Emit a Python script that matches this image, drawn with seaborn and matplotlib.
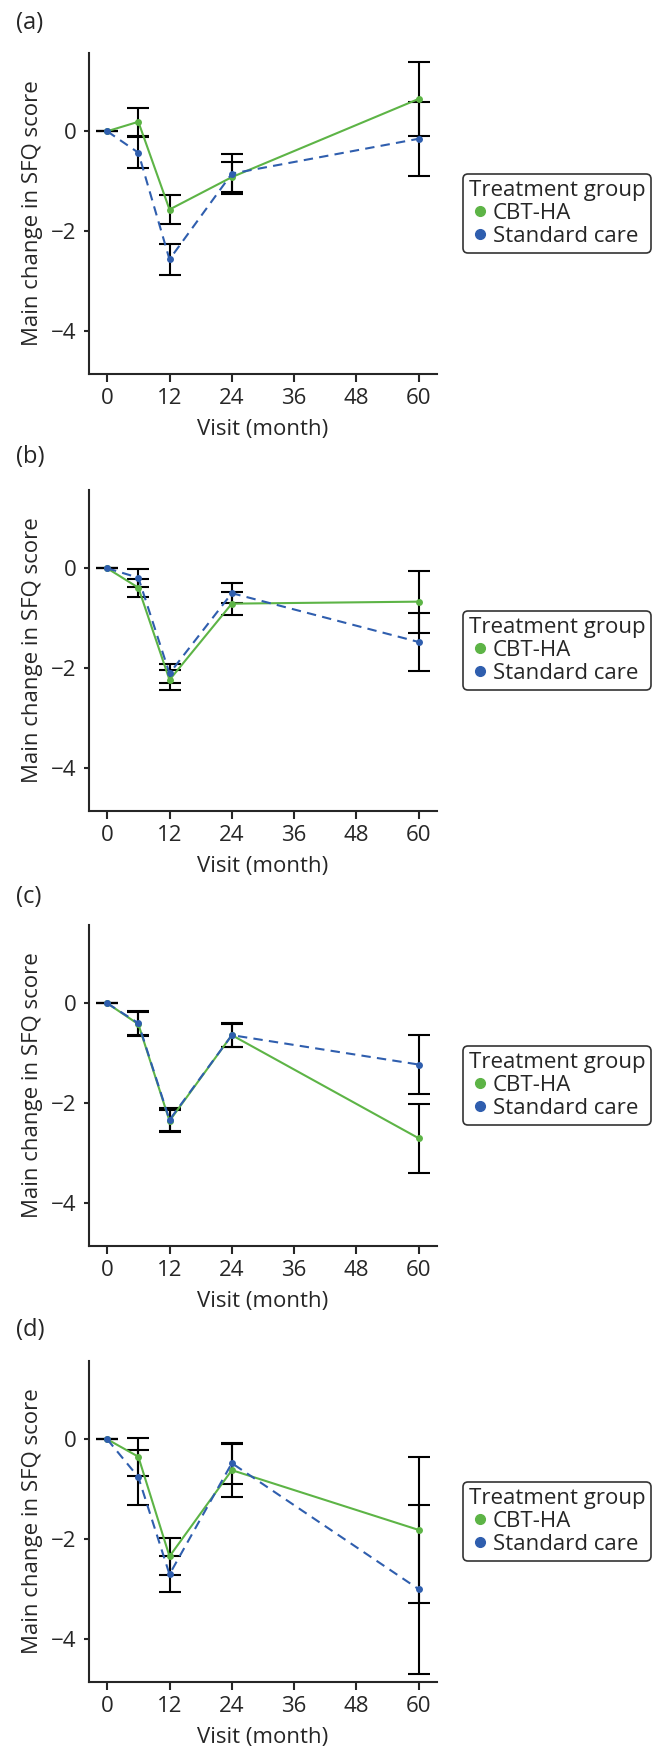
import numpy as np
import pandas as pd
import matplotlib
matplotlib.use('Agg')
import matplotlib.pyplot as plt
from matplotlib.lines import Line2D
import seaborn as sns

# visit months and per-panel values
months = [0, 6, 12, 24, 60]
panel_labels = ['(a)', '(b)', '(c)', '(d)']

cbt_means = [
    [0, 0.19, -1.57, -0.92, 0.65],
    [0, -0.39, -2.24, -0.71, -0.67],
    [0, -0.42, -2.36, -0.64, -2.71],
    [0, -0.35, -2.35, -0.62, -1.82],
]
cbt_errs = [
    [0, 0.28, 0.29, 0.30, 0.74],
    [0, 0.18, 0.20, 0.23, 0.62],
    [0, 0.24, 0.22, 0.23, 0.69],
    [0, 0.38, 0.37, 0.53, 1.47],
]
sc_means = [
    [0, -0.43, -2.57, -0.85, -0.15],
    [0, -0.19, -2.11, -0.50, -1.48],
    [0, -0.40, -2.34, -0.64, -1.23],
    [0, -0.76, -2.71, -0.48, -3.01],
]
sc_errs = [
    [0, 0.31, 0.31, 0.40, 0.74],
    [0, 0.18, 0.19, 0.20, 0.58],
    [0, 0.24, 0.23, 0.24, 0.60],
    [0, 0.55, 0.36, 0.41, 1.69],
]

GREEN = '#5db446'
BLUE = '#2f5eae'
palette = {'CBT-HA': GREEN, 'Standard care': BLUE}
FS = 16

sns.set_style('ticks')
plt.rcParams['font.family'] = ['Open Sans', 'DejaVu Sans']
plt.rcParams['font.size'] = FS
plt.rcParams['axes.linewidth'] = 1.5
plt.rcParams['xtick.major.width'] = 1.5
plt.rcParams['ytick.major.width'] = 1.5
plt.rcParams['xtick.major.size'] = 6
plt.rcParams['ytick.major.size'] = 3.3
plt.rcParams['xtick.major.pad'] = 4
plt.rcParams['ytick.major.pad'] = 5.5

W, H = 657, 1751
fig = plt.figure(figsize=(W / 100, H / 100), dpi=100)

ax_left, ax_right = 89, 437
ax_tops = [53, 490, 925, 1361]
ax_h = 321
label_tops = [11, 445, 885, 1318]

for i in range(4):
    top = ax_tops[i]
    ax = fig.add_axes([ax_left / W, 1 - (top + ax_h) / H, (ax_right - ax_left) / W, ax_h / H])

    df = pd.DataFrame({
        'month': months * 2,
        'change': cbt_means[i] + sc_means[i],
        'err': cbt_errs[i] + sc_errs[i],
        'group': ['CBT-HA'] * len(months) + ['Standard care'] * len(months),
    })

    for g, sub in df.groupby('group'):
        ax.errorbar(sub['month'], sub['change'], yerr=sub['err'], fmt='none',
                    ecolor='black', elinewidth=1.5, capsize=8, capthick=1.5, zorder=2)

    sns.lineplot(data=df, x='month', y='change', hue='group', style='group',
                 palette=palette, dashes={'CBT-HA': '', 'Standard care': (4.5, 3)},
                 markers={'CBT-HA': 'o', 'Standard care': 'o'}, markersize=5,
                 markeredgewidth=0, linewidth=1.5, errorbar=None, legend=False,
                 ax=ax, zorder=3)

    ax.set_xlim(-3.5, 63.5)
    ax.set_ylim(-4.87, 1.57)
    ax.set_xticks([0, 12, 24, 36, 48, 60])
    ax.set_yticks([0, -2, -4])
    ax.set_xlabel('Visit (month)', labelpad=7)
    ax.set_ylabel('Main change in SFQ score', labelpad=6)
    sns.despine(ax=ax)

    handles = [Line2D([], [], marker='o', linestyle='none', color=GREEN, markersize=7),
               Line2D([], [], marker='o', linestyle='none', color=BLUE, markersize=7)]
    leg = ax.legend(handles, ['CBT-HA', 'Standard care'], title='Treatment group',
                    loc='center left', bbox_to_anchor=(1.075, 0.5), frameon=True,
                    fancybox=True, edgecolor='black', handletextpad=0.1,
                    handlelength=1.0, borderpad=0.25, labelspacing=0.1,
                    fontsize=FS, title_fontsize=FS, borderaxespad=0)
    leg._legend_box.align = 'left'
    leg.get_frame().set_linewidth(1.2)

    fig.text(16 / W, 1 - label_tops[i] / H, panel_labels[i], ha='left', va='top', fontsize=FS + 1)

fig.savefig('out.png', dpi=100)
